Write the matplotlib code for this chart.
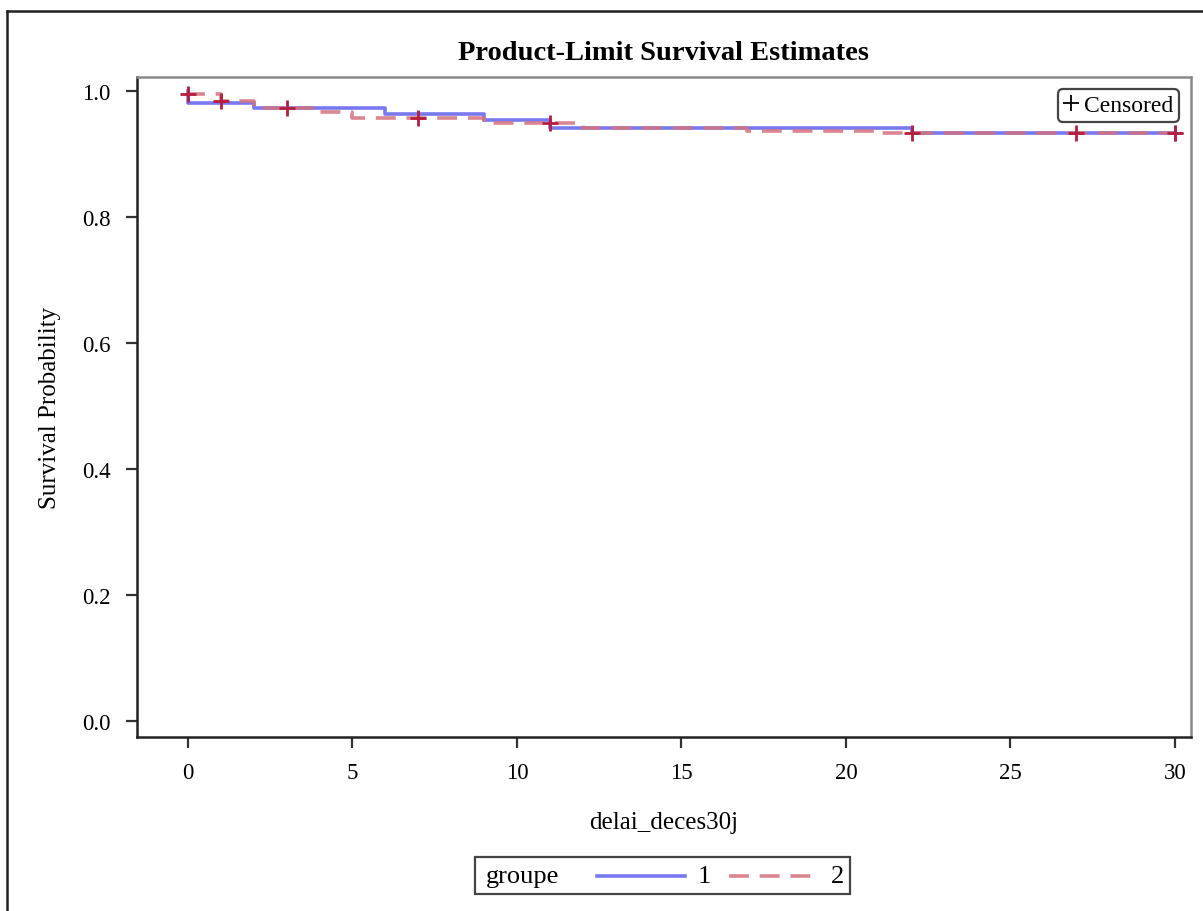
"""
Kaplan-Meier (product-limit) survival estimates by groupe, SAS-style look.
"""

import matplotlib.pyplot as plt
from matplotlib.lines import Line2D
from matplotlib.patches import Rectangle

# step curves (time, survival) -- first point is the start at 1.0
g1_times = [0, 0, 2, 6, 9, 11, 22, 30]
g1_surv = [1.0, 0.981, 0.9725, 0.9635, 0.9545, 0.942, 0.933, 0.933]

g2_times = [0, 0, 1, 2, 4, 5, 9, 12, 17, 21, 30]
g2_surv = [1.0, 0.995, 0.984, 0.9725, 0.966, 0.957, 0.949, 0.942, 0.937, 0.933, 0.933]

# censored observations
g1_cens_t = [30]
g1_cens_s = [0.933]
g2_cens_t = [0, 1, 3, 7, 11, 22, 27, 30]
g2_cens_s = [0.995, 0.984, 0.9725, 0.957, 0.949, 0.933, 0.933, 0.933]

x_ticks = [0, 5, 10, 15, 20, 25, 30]
y_ticks = [0.0, 0.2, 0.4, 0.6, 0.8, 1.0]
group_labels = ["1", "2"]

BLUE = "#7878F0"
RED = "#D4707C"
MARK = "#B51E3C"
DASH = (5.5, 3)
LW = 2.6

plt.rcParams["font.family"] = ["Liberation Serif", "DejaVu Serif"]

W, H = 1203, 912


def fx(px):
    return px / W


def fy(py):
    return 1 - py / H


fig = plt.figure(figsize=(W / 100, H / 100), dpi=100)
ax = fig.add_axes([fx(137), fy(738), fx(1191) - fx(137), fy(78) - fy(738)])

ax.plot(g1_times, g1_surv, drawstyle="steps-post", color=BLUE, lw=LW)
ax.plot(g2_times, g2_surv, drawstyle="steps-post", color=RED, lw=LW,
        dashes=DASH, alpha=0.85)
ax.plot(g1_cens_t, g1_cens_s, ls="none", marker="+", ms=11, mew=2, color=BLUE)
ax.plot(g2_cens_t, g2_cens_s, ls="none", marker="+", ms=11, mew=2, color=MARK)

ax.set_xlim(-1.55, 30.49)
ax.set_ylim(-0.0254, 1.0222)
ax.set_xticks(x_ticks)
ax.set_yticks(y_ticks)
ax.set_yticklabels([f"{v:.1f}" for v in y_ticks])
ax.tick_params(direction="out", length=8, width=1.6, labelsize=16.5,
               color="#333333")
ax.tick_params(axis="x", pad=10)
ax.tick_params(axis="y", pad=11)

for side in ("left", "bottom"):
    ax.spines[side].set_color("#222222")
    ax.spines[side].set_linewidth(1.8)
for side in ("top", "right"):
    ax.spines[side].set_color("#8a8a8a")
    ax.spines[side].set_linewidth(1.8)

ax.set_xlabel("delai_deces30j", fontsize=18, labelpad=20)
ax.set_ylabel("Survival Probability", fontsize=18, labelpad=15)
ax.set_title("Product-Limit Survival Estimates", fontsize=20.5,
             fontweight="bold", pad=13)

cens_handle = Line2D([], [], ls="none", marker="+", ms=11, mew=1.3, color="black")
leg = ax.legend([cens_handle], ["Censored"], loc="upper right",
                handlelength=0.6, handletextpad=0.25, borderpad=0.25,
                borderaxespad=0.5, fancybox=True, framealpha=1,
                edgecolor="#444444", fontsize=17)
leg.get_frame().set_linewidth(1.6)

# bottom legend: "groupe  ----- 1  - - - 2" in one framed row
fig.patches.append(Rectangle((fx(475), fy(895)), fx(850) - fx(475), fy(858) - fy(895),
                             transform=fig.transFigure, fill=False,
                             edgecolor="#444444", lw=1.6))
fig.text(fx(486), fy(877), "groupe", fontsize=19, va="center", ha="left")
fig.lines.append(Line2D([fx(597), fx(685)], [fy(877), fy(877)],
                        transform=fig.transFigure, color=BLUE, lw=LW))
fig.text(fx(698), fy(877), group_labels[0], fontsize=19, va="center", ha="left")
fig.lines.append(Line2D([fx(729), fx(812)], [fy(877), fy(877)],
                        transform=fig.transFigure, color=RED, lw=LW,
                        dashes=DASH, alpha=0.85))
fig.text(fx(831), fy(877), group_labels[1], fontsize=19, va="center", ha="left")

# outer graph border (left and top edges visible)
fig.lines.append(Line2D([fx(7), fx(7)], [fy(12), 0], transform=fig.transFigure,
                        color="#222222", lw=1.8))
fig.lines.append(Line2D([fx(7), 1], [fy(12), fy(12)], transform=fig.transFigure,
                        color="#222222", lw=1.8))

fig.savefig("out.png", dpi=100)
